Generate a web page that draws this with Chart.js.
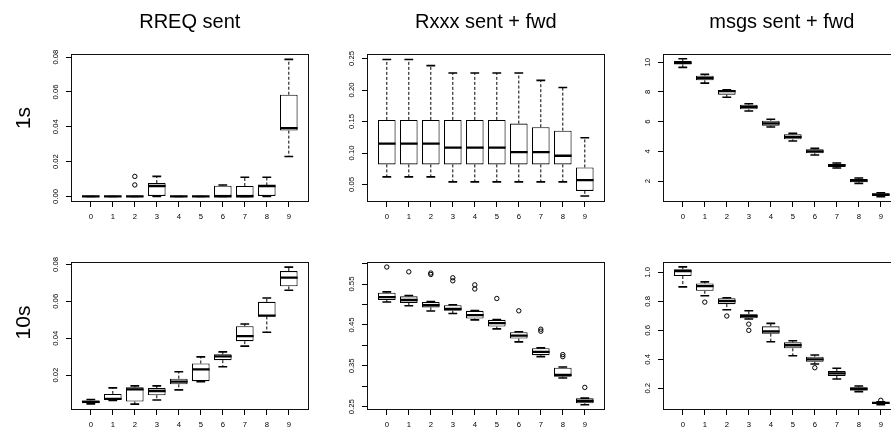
<!DOCTYPE html>
<html><head><meta charset="utf-8">
<script src="https://cdn.jsdelivr.net/npm/chart.js@4.4.1/dist/chart.umd.min.js"></script>
<style>
html,body{margin:0;padding:0;background:#fff;overflow:hidden;width:891px;height:431px;position:relative;}
canvas{position:absolute;}
</style></head><body>
<canvas id="c0"></canvas><canvas id="c1"></canvas><canvas id="c2"></canvas>
<canvas id="c3"></canvas><canvas id="c4"></canvas><canvas id="c5"></canvas>
<script>
// ---------- data ----------
const categories = ['0','1','2','3','4','5','6','7','8','9'];
const colTitles = ['RREQ sent','Rxxx sent + fwd','msgs sent + fwd'];
const rowTitles = ['1s','10s'];

// RREQ sent, 1s
const A_lo  = [0,0,0,0,0,0,0,0,0,0.0229];
const A_q1  = [0,0,0,0,0,0,0,0,0,0.0378];
const A_med = [0,0,0,0.0060,0,0,0,0,0.0060,0.0392];
const A_q3  = [0,0,0,0.0077,0,0,0.0062,0.0060,0.0063,0.0584];
const A_hi  = [0,0,0,0.0115,0,0,0.0066,0.0110,0.0110,0.0787];
const A_out = [[2,0.0115],[2,0.0066]];
const A_yticks  = [0,0.02,0.04,0.06,0.08];
const A_ylabels = ['0.00','0.02','0.04','0.06','0.08'];

// Rxxx sent + fwd, 1s
const B_lo  = [0.0621,0.0621,0.0621,0.0542,0.0542,0.0542,0.0542,0.0542,0.0542,0.0318];
const B_q1  = [0.0819,0.0819,0.0819,0.0819,0.0819,0.0819,0.0819,0.0819,0.0819,0.0398];
const B_med = [0.1148,0.1148,0.1148,0.1084,0.1084,0.1084,0.1015,0.1015,0.0956,0.0569];
const B_q3  = [0.1526,0.1526,0.1526,0.1526,0.1526,0.1526,0.1467,0.1410,0.1355,0.0771];
const B_hi  = [0.2485,0.2485,0.2388,0.2271,0.2271,0.2271,0.2271,0.2153,0.2041,0.1243];
const B_out = [];
const B_yticks  = [0.05,0.10,0.15,0.20,0.25];
const B_ylabels = ['0.05','0.10','0.15','0.20','0.25'];

// msgs sent + fwd, 1s
const C_lo  = [9.66,8.60,7.64,6.72,5.64,4.70,3.75,2.88,1.84,0.94];
const C_q1  = [9.86,8.79,7.82,6.83,5.73,4.81,3.87,2.94,1.91,0.99];
const C_med = [9.97,8.94,8.06,6.99,5.89,4.98,4.00,3.06,2.02,1.08];
const C_q3  = [10.08,9.10,8.13,7.14,6.06,5.15,4.14,3.15,2.13,1.17];
const C_hi  = [10.24,9.19,8.15,7.21,6.16,5.21,4.20,3.21,2.20,1.21];
const C_out = [];
const C_yticks  = [2,4,6,8,10];
const C_ylabels = ['2','4','6','8','10'];

// RREQ sent, 10s
const D_lo  = [0.0044,0.0063,0.0043,0.0065,0.0120,0.0164,0.0245,0.0357,0.0432,0.0660];
const D_q1  = [0.0048,0.0066,0.0057,0.0091,0.0150,0.0167,0.0281,0.0384,0.0518,0.0681];
const D_med = [0.0055,0.0071,0.0123,0.0114,0.0165,0.0231,0.0302,0.0411,0.0522,0.0728];
const D_q3  = [0.0063,0.0098,0.0134,0.0130,0.0181,0.0263,0.0313,0.0465,0.0597,0.0764];
const D_hi  = [0.0068,0.0131,0.0142,0.0142,0.0218,0.0299,0.0326,0.0477,0.0618,0.0785];
const D_out = [];
const D_yticks  = [0.02,0.04,0.06,0.08];
const D_ylabels = ['0.02','0.04','0.06','0.08'];

// Rxxx sent + fwd, 10s
const E_lo  = [0.506,0.497,0.484,0.478,0.4625,0.4404,0.4086,0.3725,0.3203,0.2549];
const E_q1  = [0.511,0.504,0.493,0.4846,0.4657,0.446,0.4167,0.376,0.3235,0.2583];
const E_med = [0.518,0.511,0.4985,0.4895,0.474,0.4544,0.424,0.384,0.328,0.264];
const E_q3  = [0.529,0.520,0.506,0.4985,0.4846,0.4625,0.4324,0.3931,0.3456,0.2706];
const E_hi  = [0.531,0.522,0.507,0.4995,0.4855,0.463,0.4335,0.394,0.347,0.271];
const E_out = [[0,0.5917],[1,0.580],[2,0.577],[2,0.5735],[3,0.5654],[3,0.558],[4,0.548],[4,0.538],
               [5,0.5147],[6,0.4846],[7,0.4397],[7,0.4348],[8,0.3775],[8,0.3725],[9,0.2973]];
const E_yticks  = [0.25,0.30,0.35,0.40,0.45,0.50,0.55,0.60];
const E_ylabels = ['0.25','','0.35','','0.45','','0.55',''];

// msgs sent + fwd, 10s
const F_lo  = [0.900,0.839,0.742,0.678,0.521,0.425,0.368,0.264,0.177,0.087];
const F_q1  = [0.975,0.873,0.781,0.683,0.577,0.476,0.383,0.285,0.184,0.092];
const F_med = [1.009,0.905,0.802,0.699,0.593,0.497,0.400,0.303,0.195,0.099];
const F_q3  = [1.022,0.924,0.821,0.712,0.628,0.517,0.418,0.319,0.207,0.103];
const F_hi  = [1.038,0.935,0.825,0.735,0.648,0.528,0.430,0.338,0.216,0.106];
const F_out = [[1,0.795],[2,0.699],[3,0.643],[3,0.600],[6,0.342],[9,0.117]];
const F_yticks  = [0.2,0.4,0.6,0.8,1.0];
const F_ylabels = ['0.2','0.4','0.6','0.8','1.0'];

// ---------- drawing ----------
const FONT = "'Liberation Sans', Arial, Helvetica, sans-serif";

const boxPlot = {
  id: 'boxPlot',
  beforeDatasetsDraw(chart) {
    const st = chart.data.datasets[0].stats;
    const xs = chart.scales.x, ys = chart.scales.y;
    const meta = chart.getDatasetMeta(0);
    const ctx = chart.ctx;
    ctx.save();
    ctx.strokeStyle = '#000';
    for (let i = 0; i < st.med.length; i++) {
      const cx = xs.getPixelForValue(i);
      const w = meta.data[i].width;
      const yHi = ys.getPixelForValue(st.hi[i]), yQ3 = ys.getPixelForValue(st.q3[i]);
      const yLo = ys.getPixelForValue(st.lo[i]), yQ1 = ys.getPixelForValue(st.q1[i]);
      ctx.lineWidth = 1; ctx.setLineDash([3, 2]);
      ctx.beginPath();
      ctx.moveTo(cx, yQ3); ctx.lineTo(cx, yHi);
      ctx.moveTo(cx, yQ1); ctx.lineTo(cx, yLo);
      ctx.stroke();
      ctx.setLineDash([]); ctx.lineWidth = 1.6;
      ctx.beginPath();
      ctx.moveTo(cx - w / 4, yHi); ctx.lineTo(cx + w / 4, yHi);
      ctx.moveTo(cx - w / 4, yLo); ctx.lineTo(cx + w / 4, yLo);
      ctx.stroke();
    }
    ctx.restore();
  },
  afterDatasetsDraw(chart) {
    const st = chart.data.datasets[0].stats;
    const xs = chart.scales.x, ys = chart.scales.y;
    const meta = chart.getDatasetMeta(0);
    const ctx = chart.ctx;
    ctx.save();
    ctx.strokeStyle = '#000';
    ctx.lineWidth = 2.3;
    ctx.beginPath();
    for (let i = 0; i < st.med.length; i++) {
      const cx = xs.getPixelForValue(i);
      const w = meta.data[i].width;
      const yM = ys.getPixelForValue(st.med[i]);
      ctx.moveTo(cx - w / 2, yM); ctx.lineTo(cx + w / 2, yM);
    }
    ctx.stroke();
    const a = chart.chartArea;
    ctx.lineWidth = 1;
    ctx.strokeStyle = '#111';
    const l = Math.round(a.left) + 0.5, t = Math.round(a.top) + 0.5;
    const r = Math.round(a.right) - 0.5, b = Math.round(a.bottom) - 0.5;
    ctx.strokeRect(l, t, r - l, b - t);
    ctx.restore();
  }
};

const panels = [
  {lo:A_lo,q1:A_q1,med:A_med,q3:A_q3,hi:A_hi,out:A_out,yt:A_yticks,yl:A_ylabels,ymin:-0.0032,ymax:0.0818,ypad:3},
  {lo:B_lo,q1:B_q1,med:B_med,q3:B_q3,hi:B_hi,out:B_out,yt:B_yticks,yl:B_ylabels,ymin:0.0222,ymax:0.2572,ypad:3},
  {lo:C_lo,q1:C_q1,med:C_med,q3:C_q3,hi:C_hi,out:C_out,yt:C_yticks,yl:C_ylabels,ymin:0.585,ymax:10.56,ypad:6},
  {lo:D_lo,q1:D_q1,med:D_med,q3:D_q3,hi:D_hi,out:D_out,yt:D_yticks,yl:D_ylabels,ymin:0.0011,ymax:0.0813,ypad:3},
  {lo:E_lo,q1:E_q1,med:E_med,q3:E_q3,hi:E_hi,out:E_out,yt:E_yticks,yl:E_ylabels,ymin:0.242,ymax:0.604,ypad:3},
  {lo:F_lo,q1:F_q1,med:F_med,q3:F_q3,hi:F_hi,out:F_out,yt:F_yticks,yl:F_ylabels,ymin:0.05,ymax:1.072,ypad:5}
];

const canvasLeft = [0, 322, 618];
const canvasWidth = [319, 293, 293];
const canvasTop = [0, 214];
const canvasHeight = [240, 217];

panels.forEach((p, k) => {
  const row = Math.floor(k / 3), col = k % 3;
  const cv = document.getElementById('c' + k);
  cv.width = canvasWidth[col]; cv.height = canvasHeight[row];
  cv.style.left = canvasLeft[col] + 'px'; cv.style.top = canvasTop[row] + 'px';
  cv.style.width = canvasWidth[col] + 'px'; cv.style.height = canvasHeight[row] + 'px';

  const yWidth = col === 0 ? 34.4 : 45;
  const xHeight = row === 0 ? 34 : 21;
  const tickFont = {family: FONT, size: 7.7};

  const scales = {
    x: {
      type: 'linear', position: 'bottom', min: -0.9, max: 9.9, offset: false,
      afterBuildTicks: s => { s.ticks = categories.map((c, i) => ({value: i})); },
      afterFit: s => { s.height = xHeight; },
      ticks: {autoSkip: false, minRotation: 0, maxRotation: 0, padding: 5, color: '#000', font: tickFont,
              callback: (v, i) => categories[i]},
      grid: {display: true, offset: false, drawOnChartArea: false, drawTicks: true, tickLength: 5, color: '#000', lineWidth: 1},
      border: {display: false}
    },
    y: {
      type: 'linear', position: 'left', min: p.ymin, max: p.ymax,
      afterBuildTicks: s => { s.ticks = p.yt.map(v => ({value: v})); },
      afterFit: s => { s.width = yWidth; },
      ticks: {autoSkip: false, minRotation: 90, maxRotation: 90, crossAlign: 'center', padding: p.ypad, color: '#000', font: tickFont,
              callback: (v, i) => p.yl[i]},
      grid: {display: true, drawOnChartArea: false, drawTicks: true, tickLength: 5, color: '#000', lineWidth: 1},
      border: {display: false}
    }
  };
  let padTop = 0;
  if (row === 1) {
    if (col === 0) {
      scales.xTop = {type: 'linear', position: 'top', display: true,
        afterFit: s => { s.height = 48; },
        ticks: {display: false}, grid: {display: false}, border: {display: false}};
    } else {
      padTop = 48;
    }
  }
  const plotRight = [71, 367, 663][col] + 237.6;
  const padRight = canvasLeft[col] + canvasWidth[col] - plotRight;

  new Chart(cv, {
    type: 'bar',
    data: {
      datasets: [
        {
          type: 'bar', xAxisID: 'x', yAxisID: 'y',
          data: categories.map((c, i) => ({x: i, y: [p.q1[i], p.q3[i]]})),
          stats: {lo: p.lo, q1: p.q1, med: p.med, q3: p.q3, hi: p.hi},
          backgroundColor: '#fff', borderColor: '#000', borderWidth: 1.1, borderSkipped: false,
          inflateAmount: 0, categoryPercentage: 0.8, barPercentage: 1.0
        },
        {
          type: 'scatter', xAxisID: 'x', yAxisID: 'y',
          data: p.out.map(o => ({x: o[0], y: o[1]})),
          showLine: false, pointRadius: 2.2, pointBorderWidth: 1,
          pointBorderColor: '#000', pointBackgroundColor: 'rgba(0,0,0,0)'
        }
      ]
    },
    options: {
      responsive: false, animation: false, devicePixelRatio: 1, events: [],
      layout: {padding: {left: 0, right: padRight, top: padTop, bottom: row === 0 ? 4 : 0}},
      scales: scales,
      plugins: {
        legend: {display: false},
        tooltip: {enabled: false},
        title: {display: row === 0, text: colTitles[col], position: 'top', fullSize: false, align: 'center',
                color: '#000', font: {family: FONT, size: 20, weight: 'normal'}, padding: {top: 10, bottom: 20}},
        subtitle: {display: col === 0, text: rowTitles[row], position: 'left', fullSize: true, align: 'center',
                   color: '#000', font: {family: FONT, size: 21, weight: 'normal'}, padding: {top: 11.4, bottom: 0}}
      }
    },
    plugins: [boxPlot]
  });
});
</script>
</body></html>
